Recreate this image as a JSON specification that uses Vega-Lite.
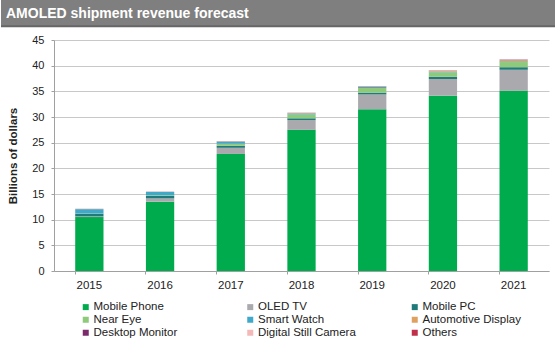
{
  "$schema": "https://vega.github.io/schema/vega-lite/v6.json",
  "padding": 0,
  "background": "white",
  "config": {"view": {"stroke": null}, "font": "Liberation Sans"},
  "columns": 1,
  "spacing": 6,
  "concat": [
    {
      "width": 555,
      "height": 27,
      "view": {"fill": "#7f7f7f", "stroke": null},
      "data": {"values": [{"t": "AMOLED shipment revenue forecast"}]},
      "layer": [
        {
          "mark": {"type": "rule", "color": "#666666", "strokeWidth": 2},
          "encoding": {"y": {"datum": 0.03, "type": "quantitative", "scale": {"domain": [0, 1]}, "axis": null}}
        },
        {
          "mark": {"type": "text", "align": "left", "baseline": "middle", "color": "white", "fontSize": 14, "fontWeight": "bold", "font": "Liberation Sans"},
          "encoding": {
            "text": {"field": "t"},
            "x": {"datum": 0.009, "type": "quantitative", "scale": {"domain": [0, 1]}, "axis": null},
            "y": {"datum": 0.5, "type": "quantitative", "scale": {"domain": [0, 1]}, "axis": null}
          }
        }
      ]
    },
    {
      "width": 548,
      "height": 231,
      "data": {"values": [
        {"year": "2015", "series": "Mobile Phone", "value": 10.5, "k": 1},
        {"year": "2015", "series": "OLED TV", "value": 0.15, "k": 2},
        {"year": "2015", "series": "Mobile PC", "value": 0.5, "k": 3},
        {"year": "2015", "series": "Near Eye", "value": 0.05, "k": 4},
        {"year": "2015", "series": "Smart Watch", "value": 0.85, "k": 5},
        {"year": "2015", "series": "Automotive Display", "value": 0.02, "k": 6},
        {"year": "2015", "series": "Desktop Monitor", "value": 0, "k": 7},
        {"year": "2015", "series": "Digital Still Camera", "value": 0.01, "k": 8},
        {"year": "2015", "series": "Others", "value": 0.03, "k": 9},
        {"year": "2016", "series": "Mobile Phone", "value": 13.5, "k": 1},
        {"year": "2016", "series": "OLED TV", "value": 0.65, "k": 2},
        {"year": "2016", "series": "Mobile PC", "value": 0.5, "k": 3},
        {"year": "2016", "series": "Near Eye", "value": 0.1, "k": 4},
        {"year": "2016", "series": "Smart Watch", "value": 0.65, "k": 5},
        {"year": "2016", "series": "Automotive Display", "value": 0.02, "k": 6},
        {"year": "2016", "series": "Desktop Monitor", "value": 0, "k": 7},
        {"year": "2016", "series": "Digital Still Camera", "value": 0.01, "k": 8},
        {"year": "2016", "series": "Others", "value": 0.03, "k": 9},
        {"year": "2017", "series": "Mobile Phone", "value": 22.8, "k": 1},
        {"year": "2017", "series": "OLED TV", "value": 1.2, "k": 2},
        {"year": "2017", "series": "Mobile PC", "value": 0.4, "k": 3},
        {"year": "2017", "series": "Near Eye", "value": 0.4, "k": 4},
        {"year": "2017", "series": "Smart Watch", "value": 0.4, "k": 5},
        {"year": "2017", "series": "Automotive Display", "value": 0.05, "k": 6},
        {"year": "2017", "series": "Desktop Monitor", "value": 0, "k": 7},
        {"year": "2017", "series": "Digital Still Camera", "value": 0.01, "k": 8},
        {"year": "2017", "series": "Others", "value": 0.03, "k": 9},
        {"year": "2018", "series": "Mobile Phone", "value": 27.5, "k": 1},
        {"year": "2018", "series": "OLED TV", "value": 1.9, "k": 2},
        {"year": "2018", "series": "Mobile PC", "value": 0.35, "k": 3},
        {"year": "2018", "series": "Near Eye", "value": 0.75, "k": 4},
        {"year": "2018", "series": "Smart Watch", "value": 0.2, "k": 5},
        {"year": "2018", "series": "Automotive Display", "value": 0.08, "k": 6},
        {"year": "2018", "series": "Desktop Monitor", "value": 0.01, "k": 7},
        {"year": "2018", "series": "Digital Still Camera", "value": 0.01, "k": 8},
        {"year": "2018", "series": "Others", "value": 0.03, "k": 9},
        {"year": "2019", "series": "Mobile Phone", "value": 31.5, "k": 1},
        {"year": "2019", "series": "OLED TV", "value": 2.9, "k": 2},
        {"year": "2019", "series": "Mobile PC", "value": 0.35, "k": 3},
        {"year": "2019", "series": "Near Eye", "value": 0.9, "k": 4},
        {"year": "2019", "series": "Smart Watch", "value": 0.2, "k": 5},
        {"year": "2019", "series": "Automotive Display", "value": 0.1, "k": 6},
        {"year": "2019", "series": "Desktop Monitor", "value": 0.02, "k": 7},
        {"year": "2019", "series": "Digital Still Camera", "value": 0.01, "k": 8},
        {"year": "2019", "series": "Others", "value": 0.03, "k": 9},
        {"year": "2020", "series": "Mobile Phone", "value": 34.15, "k": 1},
        {"year": "2020", "series": "OLED TV", "value": 3.25, "k": 2},
        {"year": "2020", "series": "Mobile PC", "value": 0.45, "k": 3},
        {"year": "2020", "series": "Near Eye", "value": 0.85, "k": 4},
        {"year": "2020", "series": "Smart Watch", "value": 0.15, "k": 5},
        {"year": "2020", "series": "Automotive Display", "value": 0.15, "k": 6},
        {"year": "2020", "series": "Desktop Monitor", "value": 0.03, "k": 7},
        {"year": "2020", "series": "Digital Still Camera", "value": 0.01, "k": 8},
        {"year": "2020", "series": "Others", "value": 0.03, "k": 9},
        {"year": "2021", "series": "Mobile Phone", "value": 35.1, "k": 1},
        {"year": "2021", "series": "OLED TV", "value": 4.1, "k": 2},
        {"year": "2021", "series": "Mobile PC", "value": 0.5, "k": 3},
        {"year": "2021", "series": "Near Eye", "value": 1.0, "k": 4},
        {"year": "2021", "series": "Smart Watch", "value": 0.15, "k": 5},
        {"year": "2021", "series": "Automotive Display", "value": 0.25, "k": 6},
        {"year": "2021", "series": "Desktop Monitor", "value": 0.05, "k": 7},
        {"year": "2021", "series": "Digital Still Camera", "value": 0.01, "k": 8},
        {"year": "2021", "series": "Others", "value": 0.03, "k": 9}
      ]},
      "mark": {"type": "bar"},
      "encoding": {
        "x": {
          "field": "year", "type": "nominal",
          "scale": {"range": [53, 548], "paddingInner": 0.6, "paddingOuter": 0.3},
          "axis": {
            "title": null, "labelAngle": 0, "labelFontSize": 11.5, "labelColor": "#222222",
            "labelPadding": 5, "bandPosition": 0, "tickSize": 3, "tickColor": "#a0a0a0",
            "domainColor": "#a0a0a0", "grid": false
          }
        },
        "y": {
          "field": "value", "type": "quantitative", "stack": "zero",
          "scale": {"domain": [0, 45], "nice": false},
          "axis": {
            "offset": -53,
            "title": "Billions of dollars", "titleFontSize": 11.5, "titleFontWeight": "bold", "titleColor": "#222222",
            "titlePadding": 13, "values": [0, 5, 10, 15, 20, 25, 30, 35, 40, 45],
            "labelFontSize": 11, "labelColor": "#222222", "labelPadding": 7,
            "tickSize": 3, "tickColor": "#a0a0a0", "domainColor": "#a0a0a0",
            "gridColor": "#c8c8c8"
          }
        },
        "color": {
          "field": "series", "type": "nominal",
          "scale": {
            "domain": ["Mobile Phone", "OLED TV", "Mobile PC", "Near Eye", "Smart Watch", "Automotive Display", "Desktop Monitor", "Digital Still Camera", "Others"],
            "range": ["#00ab4e", "#a9a9ae", "#217a7a", "#8fc97a", "#3fa9c9", "#e0a060", "#7b2a6b", "#f4b8b8", "#c0304a"]
          },
          "legend": {
            "title": null, "orient": "none", "legendX": 79, "legendY": 301,
            "direction": "horizontal", "columns": 3, "gridAlign": "all",
            "columnPadding": 52.5, "rowPadding": 0, "padding": 0,
            "symbolType": "square", "symbolSize": 36, "symbolStrokeWidth": 0,
            "labelFontSize": 11.5, "labelColor": "#222222", "labelOffset": 2, "labelLimit": 200
          }
        },
        "order": {"field": "k", "type": "quantitative"}
      }
    }
  ]
}
